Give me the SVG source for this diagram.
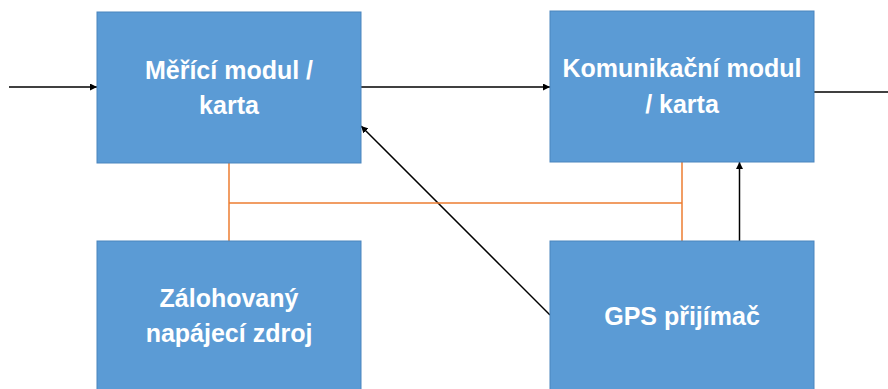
<svg xmlns="http://www.w3.org/2000/svg" width="888" height="389" viewBox="0 0 888 389">
<style>
.box{fill:#5B9BD5;stroke:#4A85BE;stroke-width:1}
.lbl{font-family:"Liberation Sans",Arial,sans-serif;font-weight:bold;font-size:25px;fill:#fff;text-anchor:middle}
.blk{stroke:#000;stroke-width:1.5;fill:none}
.org{stroke:#ED7D31;stroke-width:1.5;fill:none}
</style>
<defs>
<marker id="ah" viewBox="0 0 10 10" refX="10" refY="5" markerWidth="7" markerHeight="7" markerUnits="userSpaceOnUse" orient="auto">
<path d="M0,0 L10,5 L0,10 z" fill="#000"/>
</marker>
</defs>
<rect width="888" height="389" fill="#fff"/>
<g id="connectors">
<line class="blk" x1="9" y1="87" x2="97" y2="87" marker-end="url(#ah)"/>
<line class="blk" x1="361" y1="87" x2="550" y2="87" marker-end="url(#ah)"/>
<line class="blk" x1="814" y1="92" x2="888" y2="92"/>
<line class="blk" x1="550" y1="315" x2="361" y2="126" marker-end="url(#ah)"/>
<line class="blk" x1="739.5" y1="241" x2="739.5" y2="162" marker-end="url(#ah)"/>
<polyline class="org" points="229,163 229,241"/>
<polyline class="org" points="229,203 682,203"/>
<polyline class="org" points="682,162 682,241"/>
</g>
<g id="mereni">
<rect class="box" x="97" y="12" width="264" height="151"/>
<text class="lbl" x="229" y="79">Měřící modul /</text>
<text class="lbl" x="229" y="114">karta</text>
</g>
<g id="komunikace">
<rect class="box" x="550" y="11" width="264" height="151"/>
<text class="lbl" x="682" y="77">Komunikační modul</text>
<text class="lbl" x="682" y="113">/ karta</text>
</g>
<g id="zdroj">
<rect class="box" x="97" y="241" width="264" height="160"/>
<text class="lbl" x="229" y="307">Zálohovaný</text>
<text class="lbl" x="229" y="342">napájecí zdroj</text>
</g>
<g id="gps">
<rect class="box" x="550" y="241" width="264" height="160"/>
<text class="lbl" x="682" y="325">GPS přijímač</text>
</g>
</svg>
